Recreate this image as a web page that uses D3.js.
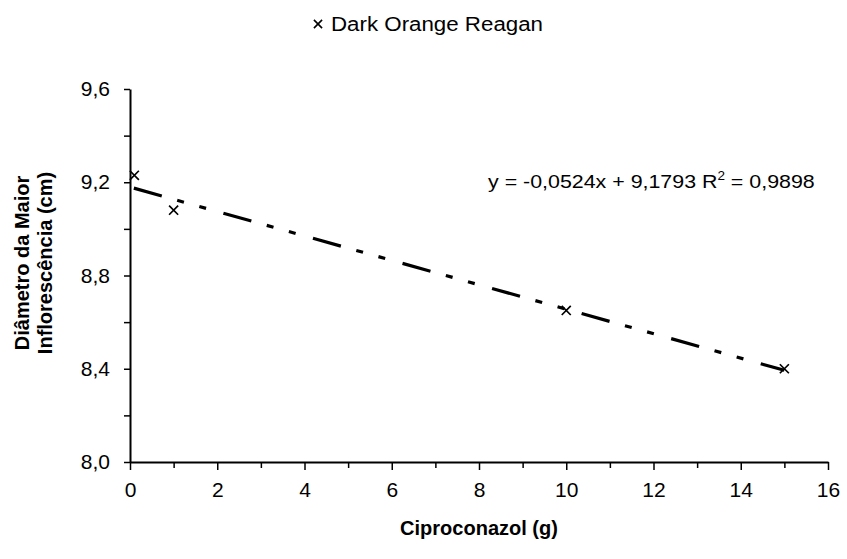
<!DOCTYPE html>
<html><head><meta charset="utf-8">
<script src="https://cdn.jsdelivr.net/npm/d3@7"></script>
<style>body{margin:0;background:#fff}svg{display:block}text{font-family:"Liberation Sans",Arial,sans-serif;fill:#000}</style>
</head><body>
<script>
const seriesName = "Dark Orange Reagan";
const xValues = [0.1, 1, 10, 15];
const yValues = [9.23, 9.08, 8.65, 8.40];
const xTicks = [0, 2, 4, 6, 8, 10, 12, 14, 16];
const yTicks = [8.0, 8.4, 8.8, 9.2, 9.6];
const slope = -0.0524, intercept = 9.1793;
const trendRange = [0, 15];
const equationText = "y = -0,0524x + 9,1793 R";
const r2Text = " = 0,9898";

const W = 847, H = 559;
const FONT = "'Liberation Sans',Arial,sans-serif";
const svg = d3.select("body").append("svg").attr("width", W).attr("height", H);
const x = d3.scaleLinear().domain([0, 16]).range([130, 828]);
const y = d3.scaleLinear().domain([8.0, 9.6]).range([462, 89]);
const fmt = d => d3.format(".1f")(d).replace(".", ",");

// minor ticks
const xMinor = d3.range(1, 16, 2);
svg.append("g").attr("transform", "translate(0,462)")
  .call(d3.axisBottom(x).tickValues(xMinor).tickSize(6).tickFormat(""))
  .call(g => g.select(".domain").remove())
  .call(g => g.selectAll("line").attr("stroke", "#000").attr("stroke-width", 1.5));
const yMinor = [8.2, 8.6, 9.0, 9.4];
svg.append("g").attr("transform", "translate(130,0)")
  .call(d3.axisLeft(y).tickValues(yMinor).tickSize(6).tickFormat(""))
  .call(g => g.select(".domain").remove())
  .call(g => g.selectAll("line").attr("stroke", "#000").attr("stroke-width", 1.5));

const xAxis = svg.append("g").attr("transform", "translate(0,462)")
  .call(d3.axisBottom(x).tickValues(xTicks).tickSize(8).tickSizeOuter(0).tickPadding(12).tickFormat(d3.format("d")));
const yAxis = svg.append("g").attr("transform", "translate(130,0)")
  .call(d3.axisLeft(y).tickValues(yTicks).tickSize(6).tickSizeOuter(0).tickPadding(14).tickFormat(fmt));
[xAxis, yAxis].forEach(g => {
  g.attr("font-size", 21).attr("font-family", FONT);
  g.select(".domain").attr("stroke", "#000").attr("stroke-width", 2);
  g.selectAll(".tick line").attr("stroke", "#000").attr("stroke-width", 1.5);
  g.selectAll(".tick text").attr("fill", "#000");
});

// trendline
svg.append("line")
  .attr("x1", x(trendRange[0])).attr("y1", y(intercept + slope * trendRange[0]))
  .attr("x2", x(trendRange[1])).attr("y2", y(intercept + slope * trendRange[1]))
  .attr("stroke", "#000").attr("stroke-width", 3.2)
  .attr("stroke-dasharray", "29,16,7,16,7,18").attr("stroke-dashoffset", -4);

// markers
const cross = d3.symbol().type(d3.symbolX).size(55);
svg.selectAll(".pt").data(xValues.map((v, i) => [v, yValues[i]])).enter()
  .append("path").attr("d", cross)
  .attr("transform", d => `translate(${x(d[0])},${y(d[1])})`)
  .attr("fill", "none").attr("stroke", "#000").attr("stroke-width", 1.7);

// legend
const lg = svg.append("g");
lg.append("path").attr("d", d3.symbol().type(d3.symbolX).size(45)())
  .attr("transform", "translate(318,24)").attr("fill", "none").attr("stroke", "#000").attr("stroke-width", 1.6);
lg.append("text").attr("x", 331).attr("y", 31).style("font-size", "20px")
  .attr("textLength", 212).attr("lengthAdjust", "spacingAndGlyphs").text(seriesName);

// equation
const eq = svg.append("text").attr("x", 488).attr("y", 188).style("font-size", "19px");
eq.append("tspan").text(equationText);
eq.append("tspan").attr("dy", -8).style("font-size", "12px").text("2");
eq.append("tspan").attr("dy", 8).text(r2Text);
{
  const w = eq.node().getComputedTextLength();
  const k = 327 / w;
  eq.attr("transform", `translate(488,0) scale(${k},1) translate(-488,0)`);
}

// axis titles
svg.append("text").attr("x", 479).attr("y", 535).attr("text-anchor", "middle")
  .style("font-size", "20px").style("font-weight", "bold").text("Ciproconazol (g)");
const yt = svg.append("text").attr("transform", "translate(0,263) rotate(-90)")
  .attr("text-anchor", "middle").style("font-size", "20px").style("font-weight", "bold");
yt.append("tspan").attr("x", 0).attr("y", 29).text("Diâmetro da Maior");
yt.append("tspan").attr("x", 0).attr("y", 52).text("Inflorescência (cm)");
</script>
</body></html>
